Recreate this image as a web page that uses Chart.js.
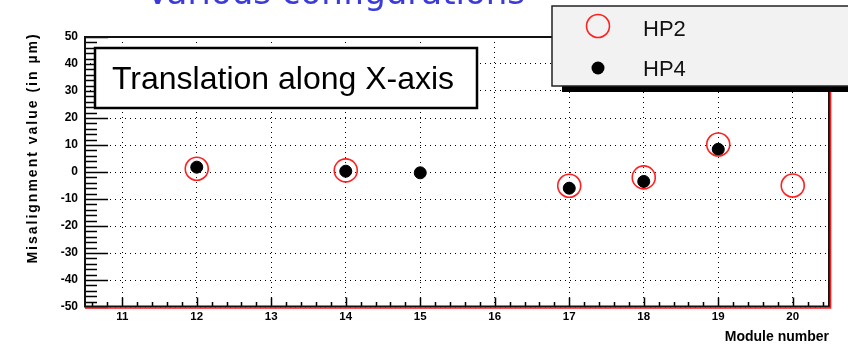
<!DOCTYPE html>
<html>
<head>
<meta charset="utf-8">
<script src="https://cdn.jsdelivr.net/npm/chart.js@4/dist/chart.umd.min.js"></script>
<style>
html,body{margin:0;padding:0;background:#fff;}
canvas{display:block;}
</style>
</head>
<body>
<canvas id="c" width="848" height="344" style="width:848px;height:344px"></canvas>
<script>
// ---- data ----
const modulesHP2 = [12, 14, 17, 18, 19, 20];
const valuesHP2  = [1.2, 0.6, -5.1, -2.0, 10.2, -5.0];
const modulesHP4 = [12, 14, 15, 17, 18, 19];
const valuesHP4  = [1.8, 0.3, -0.3, -6.0, -3.5, 8.4];
const xTickLabels = [11, 12, 13, 14, 15, 16, 17, 18, 19, 20];
const yTickLabels = [-50, -40, -30, -20, -10, 0, 10, 20, 30, 40, 50];
const seriesNames = ['HP2', 'HP4'];
const boxText = 'Translation along X-axis';
const headerText = 'Various configurations';
const xTitle = 'Module number';
const yTitle = 'Misalignment value (in \u00B5m)';

const overlay = {
  id: 'overlay',
  afterDraw(chart) {
    const ctx = chart.ctx;
    const xs = chart.scales.x, ys = chart.scales.y;
    const L = 85, T = 37, R = 829, B = 306.5;
    ctx.save();
    // ticks (inside)
    ctx.strokeStyle = '#000';
    ctx.lineWidth = 1.5;
    ctx.beginPath();
    for (let v = -50; v <= 50; v += 2) {
      const y = Math.round(ys.getPixelForValue(v)) + 0.5;
      const len = (v % 10 === 0) ? 23 : 12;
      ctx.moveTo(L, y); ctx.lineTo(L + len, y);
    }
    for (let k = 53; k <= 102; k++) {
      const v = k / 5;
      const x = Math.round(xs.getPixelForValue(v)) + 0.5;
      const len = (k % 5 === 0) ? 9 : 4.5;
      ctx.moveTo(x, B); ctx.lineTo(x, B - len);
    }
    ctx.stroke();
    // frame
    ctx.lineWidth = 2;
    ctx.strokeStyle = '#111';
    ctx.strokeRect(L, T, R - L, B - T);
    ctx.strokeStyle = '#ff1a1a';
    ctx.lineWidth = 1.6;
    ctx.beginPath();
    ctx.moveTo(L, 308); ctx.lineTo(831, 308);
    ctx.moveTo(830.5, 90); ctx.lineTo(830.5, 308.5);
    ctx.stroke();

    // text box
    ctx.fillStyle = '#fff';
    ctx.fillRect(95, 48, 382, 60);
    ctx.strokeStyle = '#000';
    ctx.lineWidth = 2.5;
    ctx.strokeRect(95, 48, 382, 60);
    ctx.fillStyle = '#000';
    ctx.font = '32px "Liberation Sans", Arial, sans-serif';
    ctx.textBaseline = 'alphabetic';
    ctx.textAlign = 'left';
    ctx.fillText(boxText, 112, 89);

    // legend
    ctx.fillStyle = '#000';
    ctx.fillRect(562, 86, 300, 6);
    ctx.fillStyle = '#f2f2f2';
    ctx.fillRect(552, 6, 300, 80);
    ctx.strokeStyle = '#222';
    ctx.lineWidth = 1.5;
    ctx.strokeRect(552, 6, 300, 80);
    const ds = chart.data.datasets;
    ctx.beginPath();
    ctx.arc(598, 26, 11.5, 0, Math.PI * 2);
    ctx.strokeStyle = ds[0].borderColor;
    ctx.lineWidth = ds[0].borderWidth;
    ctx.stroke();
    ctx.beginPath();
    ctx.arc(598, 68, 6.5, 0, Math.PI * 2);
    ctx.fillStyle = ds[1].backgroundColor;
    ctx.fill();
    ctx.fillStyle = '#111';
    ctx.font = '22px "Liberation Sans", Arial, sans-serif';
    ctx.fillText(ds[0].label, 643, 36);
    ctx.fillText(ds[1].label, 643, 76);

    // axis titles
    ctx.fillStyle = '#000';
    ctx.font = 'bold 14px "Liberation Sans", Arial, sans-serif';
    ctx.textAlign = 'right';
    ctx.fillText(xTitle, 829, 341);
    ctx.save();
    ctx.translate(37, 148);
    ctx.rotate(-Math.PI / 2);
    ctx.textAlign = 'center';
    try { ctx.letterSpacing = '2px'; } catch (e) {}
    ctx.fillText(yTitle, 0, 0);
    ctx.restore();

    // header (cut off at top)
    ctx.fillStyle = '#3b3bdc';
    ctx.font = '34px "DejaVu Sans", sans-serif';
    ctx.textAlign = 'left';
    ctx.fillText(headerText, 146, 4);
    ctx.restore();
  }
};

new Chart(document.getElementById('c'), {
  type: 'scatter',
  data: {
    datasets: [
      {
        label: seriesNames[0],
        data: modulesHP2.map((m, i) => ({ x: m, y: valuesHP2[i] })),
        pointStyle: 'circle',
        pointRadius: 11.5,
        borderWidth: 1.6,
        borderColor: '#ff2020',
        backgroundColor: 'rgba(0,0,0,0)'
      },
      {
        label: seriesNames[1],
        data: modulesHP4.map((m, i) => ({ x: m, y: valuesHP4[i] })),
        pointStyle: 'circle',
        pointRadius: 6,
        borderWidth: 1,
        borderColor: '#000',
        backgroundColor: '#000'
      }
    ]
  },
  options: {
    responsive: false,
    devicePixelRatio: 1,
    animation: false,
    layout: { padding: { top: 37, right: 18, left: 0, bottom: 0 } },
    plugins: { legend: { display: false }, tooltip: { enabled: false }, title: { display: false } },
    scales: {
      x: {
        type: 'linear',
        min: 10.5, max: 20.5,
        afterBuildTicks: s => { s.ticks = xTickLabels.map(v => ({ value: v })); },
        afterFit: s => { s.height = 37; },
        grid: { color: '#000', lineWidth: 1, drawTicks: false },
        border: { display: false, dash: [1, 4] },
        ticks: { color: '#000', font: { family: '"Liberation Sans", Arial', size: 11.5, weight: 'bold' }, padding: 3, maxRotation: 0, autoSkip: false }
      },
      y: {
        type: 'linear',
        min: -50, max: 50,
        afterBuildTicks: s => { s.ticks = yTickLabels.map(v => ({ value: v })); },
        afterFit: s => { s.width = 85; },
        grid: { color: '#000', lineWidth: 1, drawTicks: false },
        border: { display: false, dash: [1, 4] },
        ticks: { color: '#000', font: { family: '"Liberation Sans", Arial', size: 12, weight: 'bold' }, padding: 7, autoSkip: false }
      }
    }
  },
  plugins: [overlay]
});
</script>
</body>
</html>
